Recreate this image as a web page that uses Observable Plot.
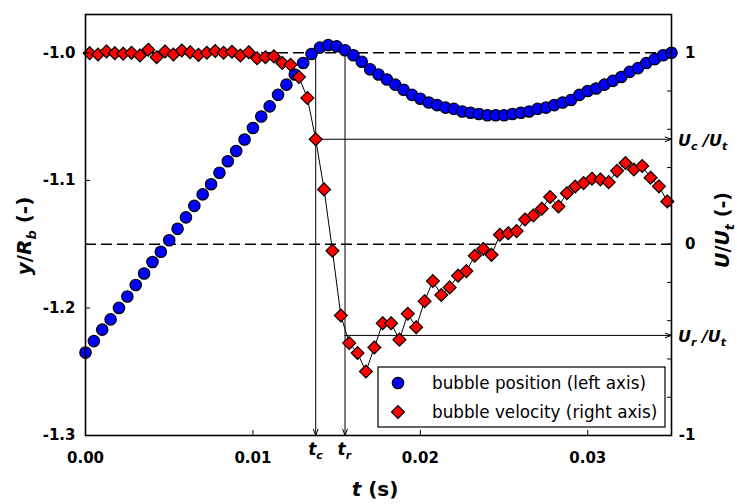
<!DOCTYPE html>
<html><head><meta charset="utf-8">
<script src="https://cdn.jsdelivr.net/npm/d3@7"></script>
<script src="https://cdn.jsdelivr.net/npm/@observablehq/plot@0.6"></script>
<style>body{margin:0;background:#fff}</style>
</head><body><div id="chart"></div><script>
// bubble position (left axis), y/Rb
const posTime = [0,0.0005,0.001,0.0015,0.002,0.0025,0.003,0.0035,0.004,0.0045,0.005,0.0055,0.006,0.0065,0.007,0.0075,0.008,0.0085,0.009,0.0095,0.01,0.0105,0.011,0.0115,0.012,0.0125,0.013,0.0135,0.014,0.0145,0.015,0.0155,0.016,0.0165,0.017,0.0175,0.018,0.0185,0.019,0.0195,0.02,0.0205,0.021,0.0215,0.022,0.0225,0.023,0.0235,0.024,0.0245,0.025,0.0255,0.026,0.0265,0.027,0.0275,0.028,0.0285,0.029,0.0295,0.03,0.0305,0.031,0.0315,0.032,0.0325,0.033,0.0335,0.034,0.0345,0.035];
const posValue = [-1.235,-1.226,-1.217,-1.209,-1.200,-1.191,-1.182,-1.173,-1.164,-1.156,-1.147,-1.138,-1.129,-1.120,-1.111,-1.103,-1.094,-1.085,-1.077,-1.068,-1.059,-1.050,-1.042,-1.033,-1.025,-1.017,-1.008,-1.001,-0.996,-0.994,-0.995,-0.998,-1.002,-1.007,-1.013,-1.017,-1.021,-1.025,-1.029,-1.033,-1.036,-1.039,-1.041,-1.043,-1.044,-1.046,-1.047,-1.048,-1.049,-1.049,-1.049,-1.048,-1.047,-1.046,-1.044,-1.043,-1.041,-1.039,-1.037,-1.033,-1.030,-1.028,-1.025,-1.022,-1.019,-1.015,-1.012,-1.008,-1.005,-1.002,-1.000];
// bubble velocity (right axis), U/Ut
const velTime = [0.00025,0.00075,0.00125,0.00175,0.00225,0.00275,0.00325,0.00375,0.00425,0.00475,0.00525,0.00575,0.00625,0.00675,0.00725,0.00775,0.00825,0.00875,0.00925,0.00975,0.01025,0.01075,0.01125,0.01175,0.01225,0.01275,0.01325,0.01375,0.01425,0.01475,0.01525,0.01575,0.01625,0.01675,0.01725,0.01775,0.01825,0.01875,0.01925,0.01975,0.02025,0.02075,0.02125,0.02175,0.02225,0.02275,0.02325,0.02375,0.02425,0.02475,0.02525,0.02575,0.02625,0.02675,0.02725,0.02775,0.02825,0.02875,0.02925,0.02975,0.03025,0.03075,0.03125,0.03175,0.03225,0.03275,0.03325,0.03375,0.03425,0.03475];
const velValue = [0.998,0.991,1.007,0.998,0.995,1.000,0.986,1.016,0.977,1.007,0.991,1.012,1.003,0.989,1.000,1.009,1.000,1.005,0.986,1.003,0.971,0.977,0.981,0.947,0.937,0.873,0.764,0.548,0.286,-0.035,-0.373,-0.517,-0.569,-0.666,-0.540,-0.413,-0.413,-0.499,-0.364,-0.434,-0.298,-0.193,-0.266,-0.226,-0.165,-0.141,-0.061,-0.025,-0.056,0.049,0.057,0.068,0.129,0.150,0.185,0.246,0.197,0.266,0.301,0.319,0.342,0.338,0.324,0.383,0.424,0.390,0.408,0.347,0.302,0.223];
// axes
const xTicks = [0, 0.01, 0.02, 0.03];
const xTickLabels = ["0.00", "0.01", "0.02", "0.03"];
const leftTicks = [-1.3, -1.2, -1.1, -1.0];
const leftTickLabels = ["-1.3", "-1.2", "-1.1", "-1.0"];
const rightTicks = [-1, -0.8, -0.6, -0.4, -0.2, 0, 0.2, 0.4, 0.6, 0.8, 1];
const rightLabelTicks = [-1, 0, 1];
const rightTickLabels = ["-1", "0", "1"];
const leftDomain = [-1.3, -0.97];
const rightDomain = [-1, 1.2];
const xDomain = [0, 0.035];
// annotations
const markerTimes = [0.01375, 0.0155];   // t_c, t_r
const markerVel = [0.548, -0.477];       // Uc/Ut, Ur/Ut
const legendLabels = ["bubble position (left axis)", "bubble velocity (right axis)"];

const toLeft = u => leftDomain[0] + (u - rightDomain[0]) / (rightDomain[1] - rightDomain[0]) * (leftDomain[1] - leftDomain[0]);

const pos = posTime.map((t, i) => ({t, v: posValue[i]}));
const vel = velTime.map((t, i) => ({t, u: velValue[i], y: toLeft(velValue[i])}));
const vLines = markerTimes.map(t => ({t}));
const hLines = markerTimes.map((t, i) => ({t, y: toLeft(markerVel[i])}));

const FONT = "DejaVu Sans";
const plot = Plot.plot({
  width: 737, height: 504,
  marginLeft: 85, marginRight: 66, marginTop: 14, marginBottom: 69,
  x: {domain: xDomain},
  y: {domain: leftDomain},
  style: {fontFamily: FONT, fontSize: "15px", fontWeight: "bold", color: "#000", background: "#fff"},
  marks: [
    Plot.ruleY([-1.0, toLeft(0)], {stroke: "#000", strokeWidth: 1.5, strokeDasharray: "11,5"}),
    Plot.arrow(vLines, {x1: "t", x2: "t", y1: -1.0, y2: leftDomain[0], stroke: "#000", strokeWidth: 1, headLength: 10, headAngle: 40}),
    Plot.arrow(hLines, {x1: "t", x2: xDomain[1], y1: "y", y2: "y", stroke: "#000", strokeWidth: 1, headLength: 10, headAngle: 40}),
    Plot.dot(pos, {x: "t", y: "v", r: 5.7, fill: "#0000ff", stroke: "#000", strokeWidth: 1.2}),
    Plot.line(vel, {x: "t", y: "y", stroke: "#000", strokeWidth: 1}),
    Plot.dot(vel, {x: "t", y: "y", symbol: "diamond2", r: 5.8, fill: "#ff0000", stroke: "#000", strokeWidth: 1.2}),
    Plot.frame({stroke: "#000", strokeWidth: 1.6}),
    Plot.axisX(xTicks, {tickSize: -5, tickPadding: 22, tickFormat: (d, i) => xTickLabels[i], label: null}),
    Plot.axisY(leftTicks, {anchor: "left", tickSize: -5, tickPadding: 15, tickFormat: (d, i) => leftTickLabels[i], label: null}),
    Plot.axisY(rightTicks.map(toLeft), {anchor: "right", tickSize: -5, tickFormat: () => "", label: null}),
    Plot.axisY(rightLabelTicks.map(toLeft), {anchor: "right", tickSize: 0, tickPadding: 24, textAnchor: "end", tickFormat: (d, i) => rightTickLabels[i], label: null})
  ]
});
document.getElementById("chart").appendChild(plot);

const svg = d3.select(plot);
const sx = plot.scale("x"), sy = plot.scale("y");
const X = v => sx.apply(v), Y = v => sy.apply(v);

function richText(g, parts, attrs) {
  const t = g.append("text").attr("font-family", FONT).attr("text-anchor", "start");
  for (const [k, v] of Object.entries(attrs)) t.attr(k, v);
  for (const p of parts) {
    const s = t.append("tspan").text(p.text);
    if (p.italic) s.attr("font-style", "italic");
    if (p.size) s.attr("font-size", p.size);
    if (p.dy) s.attr("dy", p.dy);
  }
  return t;
}
const g = svg.append("g");
// U_c/U_t and U_r/U_t labels, t_c and t_r labels
const subs = ["c", "r"];
markerVel.forEach((u, i) => {
  richText(g, [
    {text: "U", italic: true},
    {text: subs[i], italic: true, size: 11, dy: 4},
    {text: " /", italic: true, dy: -4},
    {text: "U", italic: true},
    {text: "t", italic: true, size: 11, dy: 4}
  ], {x: X(xDomain[1]) + 7, y: Y(toLeft(u)) + 7, "font-size": 16, "font-weight": "bold"});
  richText(g, [
    {text: "t", italic: true},
    {text: subs[i], italic: true, size: 11, dy: 4}
  ], {x: X(markerTimes[i]) - 7, y: Y(leftDomain[0]) + 20, "font-size": 17, "font-weight": "bold"});
});
// axis titles
richText(g, [{text: "t", italic: true}, {text: " (s)"}],
  {x: 375, y: 496, "text-anchor": "middle", "font-size": 20, "font-weight": "bold"});
richText(g, [{text: "y", italic: true}, {text: "/"}, {text: "R", italic: true}, {text: "b", italic: true, size: 13, dy: 5}, {text: " (-)", dy: -5}],
  {transform: "translate(31,236) rotate(-90)", "text-anchor": "middle", "font-size": 20, "font-weight": "bold"});
richText(g, [{text: "U", italic: true}, {text: "/"}, {text: "U", italic: true}, {text: "t", italic: true, size: 13, dy: 5}, {text: " (-)", dy: -5}],
  {transform: "translate(729,230) rotate(-90)", "text-anchor": "middle", "font-size": 19, "font-weight": "bold"});
// legend
const lg = svg.append("g");
lg.append("rect").attr("x", 378).attr("y", 367).attr("width", 287).attr("height", 60)
  .attr("fill", "#fff").attr("stroke", "#000").attr("stroke-width", 1.2);
lg.append("circle").attr("cx", 398).attr("cy", 383).attr("r", 5.7).attr("fill", "#0000ff").attr("stroke", "#000").attr("stroke-width", 1.2);
lg.append("path").attr("d", d3.symbol(d3.symbolDiamond2, Math.PI * 5.8 * 5.8)()).attr("transform", "translate(398,412)")
  .attr("fill", "#ff0000").attr("stroke", "#000").attr("stroke-width", 1.2);
legendLabels.forEach((s, i) => {
  lg.append("text").attr("x", 432).attr("y", 383 + i * 29).attr("dy", "0.35em").attr("text-anchor", "start")
    .attr("font-family", FONT).attr("font-size", 16.8).attr("font-weight", "normal").text(s);
});
</script></body></html>
